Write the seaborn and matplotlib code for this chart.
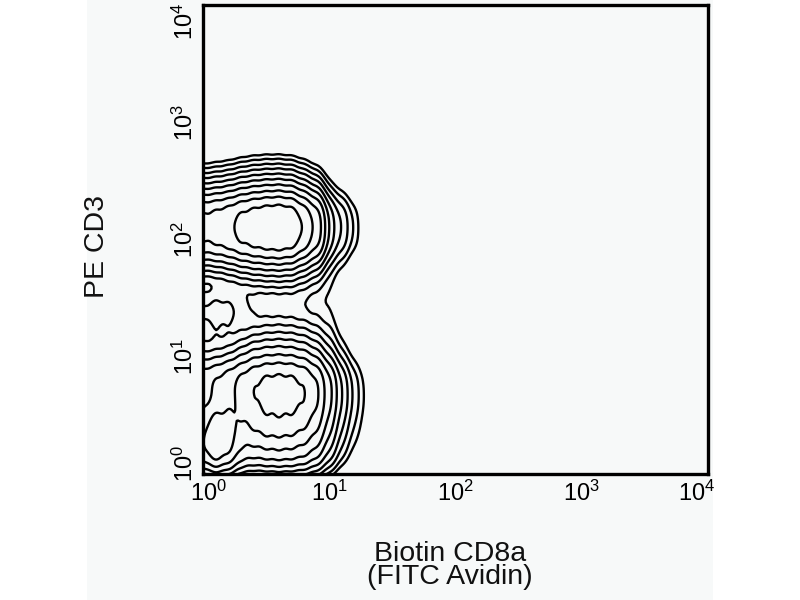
import numpy as np
import pandas as pd
import seaborn as sns
import matplotlib
matplotlib.use("Agg")
import matplotlib.pyplot as plt
from matplotlib.patches import Rectangle
from matplotlib.transforms import ScaledTranslation
from seaborn._statistics import KDE

# bin centres of the event grid, in log10 decades
log_cd8 = [-0.2, -0.1, 0.0, 0.1, 0.2, 0.3, 0.4, 0.5, 0.6, 0.7, 0.8, 0.9, 1.0, 1.1, 1.2, 1.3]
log_cd3 = [2.8, 2.6, 2.4, 2.2, 2.0, 1.8, 1.6, 1.4, 1.2, 1.0, 0.8, 0.6, 0.4, 0.2, 0.0, -0.2]

# estimated events per bin: one row per log_cd3 value, one column per log_cd8 value
event_counts = [
    [0, 0, 0, 0, 0, 0, 0, 0, 0, 0, 0, 0, 0, 0, 0, 0],
    [2, 3, 3, 4, 5, 7, 9, 10, 10, 9, 6, 3, 1, 0, 0, 0],
    [30, 40, 45, 52, 62, 84, 102, 114, 120, 108, 66, 36, 7, 3, 1, 0],
    [300, 380, 420, 470, 550, 720, 850, 950, 1000, 900, 550, 300, 60, 25, 8, 0],
    [290, 370, 410, 460, 540, 710, 840, 940, 990, 890, 540, 290, 58, 24, 8, 0],
    [25, 32, 36, 42, 56, 80, 100, 112, 118, 106, 66, 38, 10, 4, 1, 0],
    [2, 3, 3, 4, 5, 7, 9, 10, 11, 12, 10, 7, 5, 2, 0, 0],
    [18, 26, 36, 44, 40, 28, 14, 9, 8, 8, 7, 6, 5, 2, 0, 0],
    [8, 10, 14, 18, 16, 14, 20, 26, 28, 26, 22, 16, 10, 3, 1, 0],
    [30, 35, 38, 40, 50, 90, 140, 160, 170, 160, 130, 80, 30, 9, 3, 1],
    [150, 170, 200, 250, 330, 450, 600, 720, 750, 720, 600, 380, 140, 40, 12, 4],
    [130, 140, 160, 200, 270, 400, 560, 700, 740, 710, 590, 370, 135, 40, 12, 4],
    [90, 140, 300, 540, 480, 300, 360, 440, 450, 430, 350, 225, 82, 24, 8, 3],
    [80, 160, 380, 600, 420, 200, 170, 185, 195, 185, 155, 100, 40, 12, 4, 1],
    [4, 6, 10, 12, 10, 6, 4, 4, 5, 4, 4, 3, 1, 0, 0, 0],
    [0, 0, 0, 0, 0, 0, 0, 0, 0, 0, 0, 0, 0, 0, 0, 0],
]

decade_ticks = [1, 10, 100, 1000, 10000]
decade_labels = [r"$\mathregular{10^{%d}}$" % k for k in range(5)]

# contour lines drawn at these fractions of the peak density (log spaced)
contour_steps = [0.006, 0.01, 0.017, 0.028, 0.047, 0.078, 0.13, 0.22, 0.36, 0.6]
bw = 0.15

rows = []
for i, yv in enumerate(log_cd3):
    for j, xv in enumerate(log_cd8):
        rows.append({"cd8": 10 ** xv, "cd3": 10 ** yv, "events": event_counts[i][j]})
df = pd.DataFrame(rows)

# turn density fractions into the iso-proportions seaborn expects
kde = KDE(bw_method=bw, cut=3, gridsize=200)
dens, _ = kde(np.log10(df["cd8"]), np.log10(df["cd3"]), weights=df["events"])
peak = dens.max()
iso = [1 - dens[dens >= s * peak].sum() / dens.sum() for s in contour_steps]
iso = sorted(min(max(v, 0.0), 1.0) for v in iso)

sns.set_theme(style="white")
plt.rcParams["font.family"] = ["Liberation Sans", "DejaVu Sans"]
plt.rcParams["mathtext.fontset"] = "custom"
plt.rcParams["mathtext.rm"] = "Liberation Sans"
plt.rcParams["mathtext.it"] = "Liberation Sans:italic"

grey = "#f7f9f9"
fig = plt.figure(figsize=(8, 6), dpi=100)
fig.patch.set_facecolor("white")
fig.patches.append(Rectangle((87 / 800, 0), 626 / 800, 1, transform=fig.transFigure,
                             facecolor=grey, edgecolor="none", zorder=-10))
ax = fig.add_axes([0.254, 0.21, 0.631, 0.782])
ax.set_facecolor(grey)

sns.kdeplot(data=df, x="cd8", y="cd3", weights="events", log_scale=True,
            bw_method=bw, cut=3, levels=iso, color="black", linewidths=1.7, ax=ax)

ax.set_xlim(1, 1e4)
ax.set_ylim(1, 1e4)
ax.xaxis.set_minor_locator(matplotlib.ticker.NullLocator())
ax.yaxis.set_minor_locator(matplotlib.ticker.NullLocator())
ax.set_xticks(decade_ticks)
ax.set_xticklabels(decade_labels, fontsize=17)
ax.set_yticks(decade_ticks)
ax.set_yticklabels(decade_labels, fontsize=17, rotation=90, va="center")
ax.tick_params(axis="both", length=0, colors="black")
ax.tick_params(axis="x", pad=5)
ax.tick_params(axis="y", pad=4)

for side in ax.spines.values():
    side.set_color("black")
    side.set_linewidth(2.4)

ax.set_xlabel("Biotin CD8a\n(FITC Avidin)", fontsize=20.5, linespacing=0.88, color="#111111")
ax.set_ylabel("PE CD3", fontsize=20.5, color="#111111")
ax.xaxis.set_label_coords(0.489, -0.142)
ax.yaxis.set_label_coords(-0.185, 0.485)

# end labels sit a little inside the box, as in the original
xl = ax.get_xticklabels()
yl = ax.get_yticklabels()
shifts = [(xl[0], 5, 0), (xl[-1], -11, 0), (yl[0], 0, 11), (yl[-1], 0, -17)]
for lab, dx, dy in shifts:
    lab.set_transform(lab.get_transform() + ScaledTranslation(dx / 100, dy / 100, fig.dpi_scale_trans))

fig.savefig("out.png", dpi=100, facecolor=fig.get_facecolor())
